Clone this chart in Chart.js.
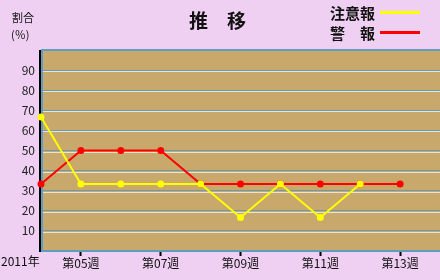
<!DOCTYPE html>
<html>
<head>
<meta charset="utf-8">
<script src="https://cdn.jsdelivr.net/npm/chart.js@4"></script>
<style>
  html, body { margin: 0; padding: 0; background: #efd0f3; }
  #wrap { position: relative; width: 440px; height: 280px; font-family: "Noto Sans CJK JP", sans-serif; color: #111; }
  #wrap canvas { position: absolute; left: 0; top: 0; }
  .lbl { position: absolute; white-space: nowrap; line-height: 1; }
  .swatch { position: absolute; height: 3px; width: 40px; }
</style>
</head>
<body>
<div id="wrap">
  <canvas id="chart" width="440" height="280"></canvas>
  <div class="lbl" style="left:12px;top:12px;font-size:11px;">割合</div>
  <div class="lbl" style="left:11px;top:29px;font-size:11px;">(％)</div>
  <div class="lbl" style="left:189px;top:10px;font-size:19px;font-weight:bold;">推　移</div>
  <div class="lbl" style="left:330px;top:5px;font-size:15px;font-weight:bold;">注意報</div>
  <div class="lbl" style="left:330px;top:25px;font-size:15px;font-weight:bold;">警　報</div>
  <div class="swatch" style="left:380px;top:11px;background:#ffff00;"></div>
  <div class="swatch" style="left:380px;top:31px;background:#ff0000;"></div>
  <div class="lbl" style="left:1px;top:255px;font-size:12px;">2011年</div>
</div>
<script>
// weeks shown on the x axis
const weeks = ['第04週', '第05週', '第06週', '第07週', '第08週', '第09週', '第10週', '第11週', '第12週', '第13週', '第14週'];
const labeledWeeks = ['第05週', '第07週', '第09週', '第11週', '第13週'];

// percentages per week
const chuuihou = [66.7, 33.3, 33.3, 33.3, 33.3, 16.7, 33.3, 16.7, 33.3, null, null];
const keihou = [33.3, 50, 50, 50, 33.3, 33.3, 33.3, 33.3, 33.3, 33.3, null];

const yTicks = [10, 20, 30, 40, 50, 60, 70, 80, 90];

const plotBg = {
  id: 'plotBg',
  beforeDraw(chart) {
    const { ctx, chartArea: a } = chart;
    ctx.save();
    ctx.fillStyle = '#c9a86b';
    ctx.fillRect(a.left, a.top, a.right - a.left, a.bottom - a.top);
    ctx.restore();
  },
  beforeDatasetsDraw(chart) {
    // light line under each grid line, like the original
    const { ctx, chartArea: a, scales } = chart;
    ctx.save();
    ctx.strokeStyle = '#f0e4c4';
    ctx.lineWidth = 1;
    yTicks.forEach(v => {
      const y = Math.round(scales.y.getPixelForValue(v)) + 1.5;
      ctx.beginPath();
      ctx.moveTo(a.left, y);
      ctx.lineTo(a.right, y);
      ctx.stroke();
    });
    // frame: top, bottom, left (open on the right)
    ctx.strokeStyle = '#5e9cc0';
    ctx.lineWidth = 2;
    ctx.beginPath();
    ctx.moveTo(a.right, a.top);
    ctx.lineTo(a.left + 1, a.top);
    ctx.lineTo(a.left + 1, a.bottom);
    ctx.lineTo(a.right, a.bottom);
    ctx.stroke();
    // left axis line
    ctx.strokeStyle = '#000';
    ctx.beginPath();
    ctx.moveTo(a.left - 1, a.top);
    ctx.lineTo(a.left - 1, a.bottom + 1);
    ctx.stroke();
    ctx.restore();
  }
};

new Chart(document.getElementById('chart'), {
  type: 'line',
  data: {
    labels: weeks,
    datasets: [
      { label: '注意報', data: chuuihou, borderColor: '#ffff00', backgroundColor: '#ffff00', borderWidth: 2, pointRadius: 3.5, pointBorderWidth: 0, tension: 0 },
      { label: '警報', data: keihou, borderColor: '#ff0000', backgroundColor: '#ff0000', borderWidth: 2, pointRadius: 3.5, pointBorderWidth: 0, tension: 0 }
    ]
  },
  options: {
    responsive: false,
    animation: false,
    layout: { autoPadding: false, padding: { top: 50, left: 0, right: 0, bottom: 0 } },
    plugins: { legend: { display: false }, tooltip: { enabled: false } },
    scales: {
      x: {
        offset: false,
        afterFit: s => { s.height = 29; },
        border: { display: false },
        grid: {
          drawOnChartArea: false,
          tickLength: 5,
          tickWidth: 2,
          tickColor: c => labeledWeeks.includes(weeks[c.index]) ? '#000' : 'rgba(0,0,0,0)'
        },
        ticks: {
          autoSkip: false,
          maxRotation: 0,
          padding: 0,
          color: '#111',
          font: { family: '"Noto Sans CJK JP", sans-serif', size: 12 },
          callback: (v, i) => labeledWeeks.includes(weeks[i]) ? weeks[i] : ''
        }
      },
      y: {
        min: 0,
        max: 100,
        afterFit: s => { s.width = 41; },
        afterBuildTicks: s => { s.ticks = [0].concat(yTicks, [100]).map(v => ({ value: v })); },
        border: { display: false },
        grid: { color: '#5e9cc0', lineWidth: 1, drawTicks: false },
        ticks: {
          padding: 6,
          color: '#222',
          font: { family: '"Noto Sans CJK JP", sans-serif', size: 12 },
          callback: v => yTicks.includes(v) ? v : ''
        }
      }
    }
  },
  plugins: [plotBg]
});
</script>
</body>
</html>
